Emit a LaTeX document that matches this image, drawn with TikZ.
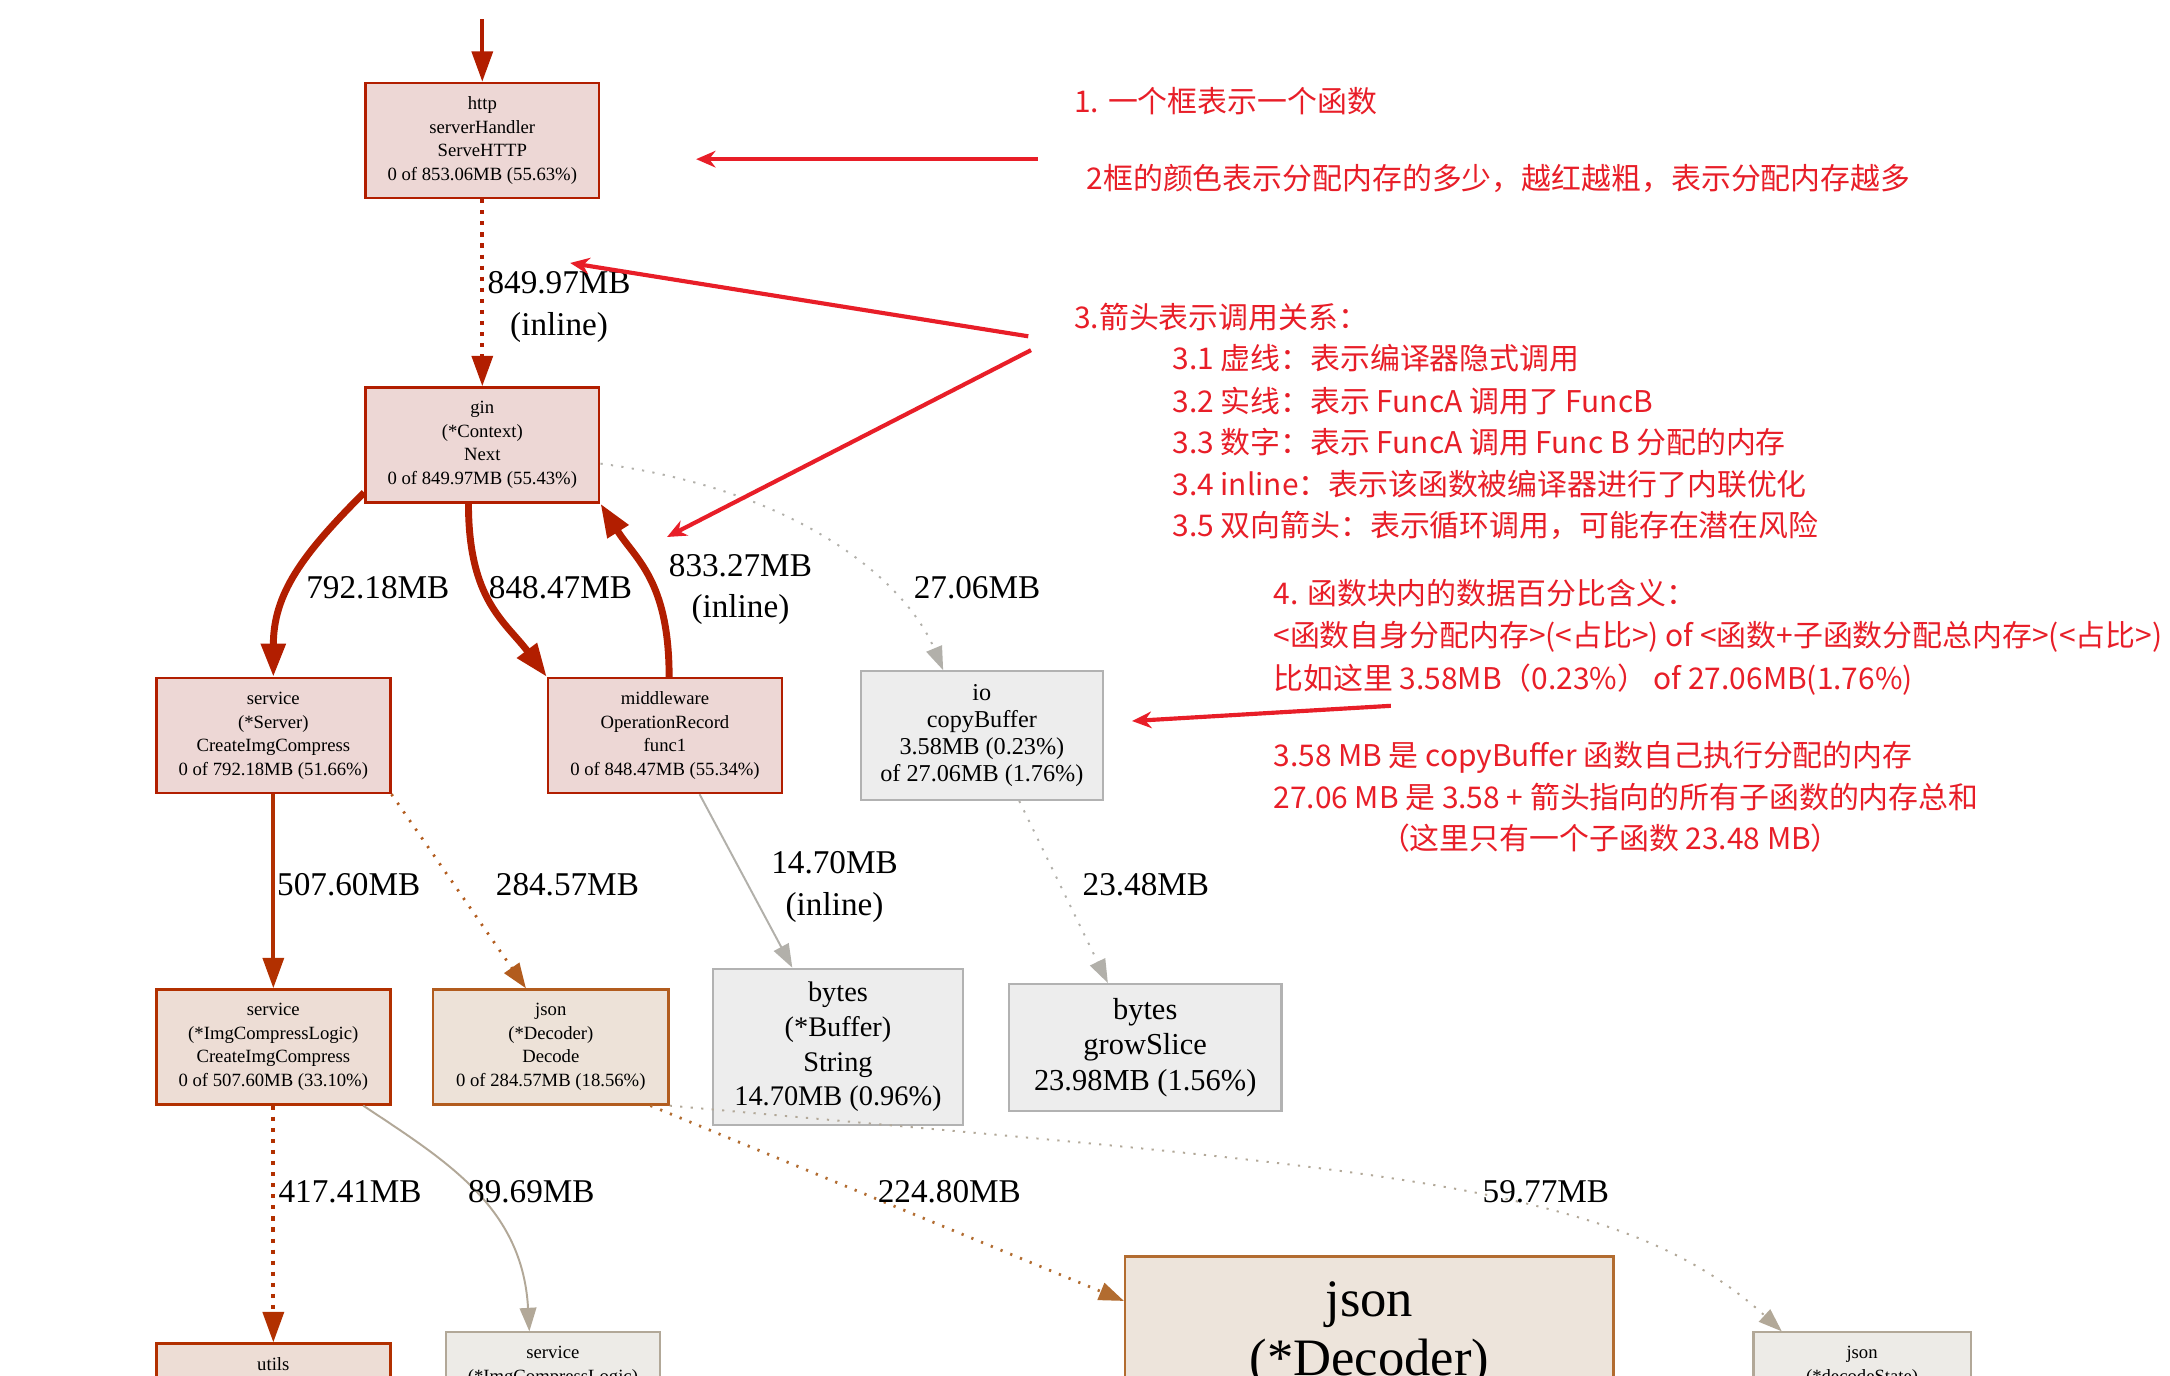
\documentclass[tikz,border=0pt]{standalone}
\usepackage{fontspec}
\setmainfont{Liberation Serif}
\newfontfamily\cjkfont{Noto Sans CJK SC}
\usepackage{xcolor}
\usetikzlibrary{arrows.meta,positioning,calc}

\definecolor{hotline}{RGB}{178,30,0}
\definecolor{hotfill}{RGB}{237,215,213}
\definecolor{warmline}{RGB}{178,48,0}
\definecolor{warmfill}{RGB}{237,221,213}
\definecolor{decline}{RGB}{178,92,30}
\definecolor{decfill}{RGB}{237,226,216}
\definecolor{bigline}{RGB}{178,108,48}
\definecolor{bigfill}{RGB}{237,228,219}
\definecolor{grayline}{RGB}{178,178,178}
\definecolor{grayfill}{RGB}{237,237,237}
\definecolor{tanline}{RGB}{178,168,152}
\definecolor{tanfill}{RGB}{237,235,231}
\definecolor{edgegray}{RGB}{178,176,170}
\definecolor{notered}{RGB}{232,30,40}

\tikzset{
  fn/.style={draw, rectangle, align=center, inner sep=2pt, line width=1.8pt, font=\fontsize{13.5}{17}\selectfont},
  full/.style={execute at begin node={\rule{0pt}{1em}}},
  hot/.style={fn, full, draw=hotline, fill=hotfill, minimum width=169pt, minimum height=83pt},
  cold/.style={fn, full, draw=grayline, fill=grayfill, line width=1.5pt},
  lbl/.style={align=center, inner sep=0pt, font=\fontsize{24}{30}\selectfont},
  note/.style={anchor=west, inner sep=0pt, text=notered, text height=17pt, text depth=3pt, font=\cjkfont\fontsize{21.6}{25}\selectfont},
  callheavy/.style={line width=5pt, -{Triangle[length=24pt,width=17pt]}},
  callmid/.style={line width=3pt, -{Triangle[length=22pt,width=15pt]}},
  calllight/.style={line width=1.4pt, -{Triangle[length=17pt,width=12pt]}},
  inl/.style={dash pattern=on 3pt off 5pt},
  inlight/.style={dash pattern=on 1.6pt off 6pt},
  hint/.style={line width=3pt, notered, -{Stealth[length=14pt,width=12pt]}}
}

\begin{document}
\begin{tikzpicture}[x=1pt,y=-1pt]
\useasboundingbox (0,0) rectangle (1568,994);
\clip (0,0) rectangle (1568,994);
\fill[white] (0,0) rectangle (1568,994);

% functions
\coordinate (entry) at (348.5,14);
\node[hot] (http) at (348.5,101.5) {http\\serverHandler\\ServeHTTP\\0 of 853.06MB (55.63\%)};
\node[hot] (gin) at (348.5,321.5) {gin\\(*Context)\\Next\\0 of 849.97MB (55.43\%)};
\node[hot] (srv) at (197.5,531.5) {service\\(*Server)\\CreateImgCompress\\0 of 792.18MB (51.66\%)};
\node[hot] (mw) at (480.5,531.5) {middleware\\OperationRecord\\func1\\0 of 848.47MB (55.34\%)};
\node[cold, minimum width=175pt, minimum height=93pt, font=\fontsize{17.5}{19.7}\selectfont] (io) at (709.5,531.5) {io\\copyBuffer\\3.58MB (0.23\%)\\of 27.06MB (1.76\%)};
\node[cold, minimum width=181pt, minimum height=113pt, font=\fontsize{20.5}{25}\selectfont] (buf) at (605.5,756.5) {bytes\\(*Buffer)\\String\\14.70MB (0.96\%)};
\node[cold, minimum width=197pt, minimum height=92pt, font=\fontsize{22}{25.5}\selectfont] (grow) at (827.5,757) {bytes\\growSlice\\23.98MB (1.56\%)};
\node[fn, full, draw=warmline, fill=warmfill, minimum width=169pt, minimum height=83pt] (logic) at (197.5,756.5) {service\\(*ImgCompressLogic)\\CreateImgCompress\\0 of 507.60MB (33.10\%)};
\node[fn, full, draw=decline, fill=decfill, minimum width=170pt, minimum height=83pt] (dec) at (398,756.5) {json\\(*Decoder)\\Decode\\0 of 284.57MB (18.56\%)};

% cut by the lower edge
\node[fn, draw=warmline, fill=warmfill, anchor=north, minimum width=169pt, inner sep=10pt, text depth=60pt] (utils) at (197.5,970) {utils};
\node[fn, draw=tanline, fill=tanfill, anchor=north, minimum width=155pt, inner sep=10pt, line width=1.5pt, text depth=60pt] (svc2) at (399.5,962) {service\\(*ImgCompressLogic)};
\node[fn, draw=bigline, fill=bigfill, anchor=north, minimum width=353pt, inner sep=18pt, text depth=200pt, font=\fontsize{38}{43}\selectfont] (bigjson) at (989.5,907) {json\\(*Decoder)};
\node[fn, draw=tanline, fill=tanfill, anchor=north, minimum width=157pt, inner sep=10pt, line width=1.5pt, text depth=60pt] (dstate) at (1345.5,962) {json\\(*decodeState)};

% calls
\draw[callmid, hotline] (entry) -- (http.north);
\draw[callmid, hotline, inl] (http) -- (gin);
\draw[callheavy, hotline] ([yshift=8pt]gin.south west) .. controls +(-45,45) and +(0,-60) .. (srv.north);
\draw[callheavy, hotline] ([xshift=-10pt]gin.south) .. controls +(0,70) and +(-30,-40) .. (mw.north west);
\draw[callheavy, hotline] ([xshift=3pt]mw.north) .. controls +(0,-70) and +(25,40) .. (gin.south east);
\draw[calllight, edgegray, inlight] ([yshift=-13.5pt]gin.east) .. controls +(150,20) and +(-25,-60) .. ([xshift=-28pt]io.north);
\draw[calllight, edgegray] ([xshift=25pt]mw.south) -- ([xshift=-33pt]buf.north);
\draw[calllight, edgegray, inlight] ([xshift=27pt]io.south) -- ([xshift=-27pt]grow.north);
\draw[callmid, warmline] (srv) -- (logic);
\draw[line width=2pt, -{Triangle[length=18pt,width=13pt]}, decline, inlight] (srv.south east) -- ([xshift=-18pt]dec.north);
\draw[callmid, warmline, inl] (logic) -- (utils);
\draw[calllight, tanline] ([xshift=65pt]logic.south) .. controls +(60,40) and +(-5,-90) .. ([xshift=-17pt]svc2.north);
\draw[line width=2pt, -{Triangle[length=18pt,width=13pt]}, bigline, inlight] ([xshift=72pt]dec.south) -- ([yshift=-33pt]bigjson.north west);
\draw[calllight, tanline, inlight] (dec.south east) .. controls +(500,45) and +(-120,-110) .. ([xshift=-58pt]dstate.north);

% call labels
\node[lbl] (lhg) at (404,222) {849.97MB\\(inline)};
\node[lbl] (lgs) at (273,425) {792.18MB};
\node[lbl] (lgm) at (405,425) {848.47MB};
\node[lbl] (lmg) at (535,426) {833.27MB\\(inline)};
\node[lbl] (lgi) at (706,425) {27.06MB};
\node[lbl] (lmb) at (603,641) {14.70MB\\(inline)};
\node[lbl] (lig) at (828,639) {23.48MB};
\node[lbl] (lsl) at (252,639) {507.60MB};
\node[lbl] (lsd) at (410,639) {284.57MB};
\node[lbl] (llu) at (253,861) {417.41MB};
\node[lbl] (lls) at (384,861) {89.69MB};
\node[lbl] (ldj) at (686,861) {224.80MB};
\node[lbl] (ldd) at (1117,861) {59.77MB};

% notes
\node[note] (note1) at (776,74) {1. 一个框表示一个函数};
\node[note] (note2) at (785,130) {2框的颜色表示分配内存的多少，越红越粗，表示分配内存越多};
\node[note] (note3) at (776,230) {3.箭头表示调用关系：};
\node[note] (note31) at (847,260) {3.1 虚线：表示编译器隐式调用};
\node[note] (note32) at (847,291) {3.2 实线：表示 FuncA 调用了 FuncB};
\node[note] (note33) at (847,321) {3.3 数字：表示 FuncA 调用 Func B 分配的内存};
\node[note] (note34) at (847,351) {3.4 inline：表示该函数被编译器进行了内联优化};
\node[note] (note35) at (847,381) {3.5 双向箭头：表示循环调用，可能存在潜在风险};
\node[note] (note4) at (920,430) {4. 函数块内的数据百分比含义：};
\node[note] (note41) at (920,460) {<函数自身分配内存>(<占比>) of <函数+子函数分配总内存>(<占比>)};
\node[note] (note42) at (920,491) {比如这里 3.58MB（0.23\%） of 27.06MB(1.76\%)};
\node[note] (note43) at (920,547) {3.58 MB 是 copyBuffer 函数自己执行分配的内存};
\node[note] (note44) at (920,577) {27.06 MB 是 3.58 + 箭头指向的所有子函数的内存总和};
\node[note] (note45) at (997,607) {（这里只有一个子函数 23.48 MB）};

% pointers from the notes
\coordinate (h1) at (750,115);
\coordinate (h1e) at (503,115);
\coordinate (h2) at (743,243);
\coordinate (h2e) at (412,190);
\coordinate (h3) at (745,253);
\coordinate (h3e) at (482,388);
\coordinate (h4) at (1005,510);
\coordinate (h4e) at (818,521);
\draw[hint] (h1) -- (h1e);
\draw[hint] (h2) -- (h2e);
\draw[hint] (h3) -- (h3e);
\draw[hint] (h4) -- (h4e);
\end{tikzpicture}
\end{document}
